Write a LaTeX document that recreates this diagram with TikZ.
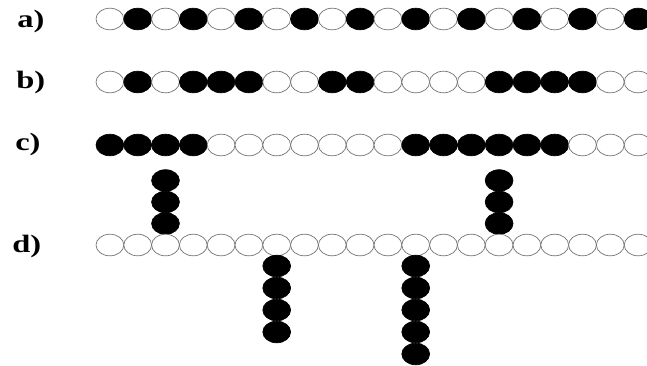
\documentclass[tikz,border=0pt]{standalone}
\usepackage{fontspec}
\setmainfont{Liberation Serif}
\newfontfamily\lblfont{Liberation Serif}[UprightFont=* Bold]
\begin{document}
\begin{tikzpicture}[x=1pt,y=-1pt,
  bead/.style={draw=black!55,line width=0.7pt,fill=white},
  blackbead/.style={draw=black,line width=0.7pt,fill=black},
  lbl/.style={anchor=base west,inner sep=0pt,font=\lblfont\fontsize{25}{25}\selectfont,xscale=1.3}]
\useasboundingbox (0,0) rectangle (647,365);
\def\rx{13.9}\def\ry{10.8}\def\dx{27.8}\def\xo{96}
% labels
\node[lbl] (la) at (17,27) {a)};
\node[lbl] (lb) at (16,88) {b)};
\node[lbl] (lc) at (15,150) {c)};
\node[lbl] (ld) at (12,252) {d)};
% row a
\foreach \i in {0,...,19}{
  \pgfmathtruncatemacro{\m}{mod(\i,2)}
  \ifnum\m=1 \def\st{blackbead}\else\def\st{bead}\fi
  \path[\st] ({\xo+\dx*(\i+0.5)},19) ellipse [x radius=\rx,y radius=\ry];
}
% row b
\foreach \i/\c in {0/0,1/1,2/0,3/1,4/1,5/1,6/0,7/0,8/1,9/1,10/0,11/0,12/0,13/0,14/1,15/1,16/1,17/1,18/0,19/0}{
  \ifnum\c=1 \def\st{blackbead}\else\def\st{bead}\fi
  \path[\st] ({\xo+\dx*(\i+0.5)},82) ellipse [x radius=\rx,y radius=\ry];
}
% row c
\foreach \i/\c in {0/1,1/1,2/1,3/1,4/0,5/0,6/0,7/0,8/0,9/0,10/0,11/1,12/1,13/1,14/1,15/1,16/1,17/0,18/0,19/0}{
  \ifnum\c=1 \def\st{blackbead}\else\def\st{bead}\fi
  \path[\st] ({\xo+\dx*(\i+0.5)},145) ellipse [x radius=\rx,y radius=\ry];
}
% columns between c and d
\foreach \y in {180.5,202,223.5}{
  \path[blackbead] ({\xo+\dx*2.5},\y) ellipse [x radius=\rx,y radius=\ry];
  \path[blackbead] ({\xo+\dx*14.5},\y) ellipse [x radius=\rx,y radius=\ry];
}
% row d
\foreach \i in {0,...,19}{
  \path[bead] ({\xo+\dx*(\i+0.5)},245) ellipse [x radius=\rx,y radius=\ry];
}
% columns below d
\foreach \y in {266,288,310,332}{
  \path[blackbead] ({\xo+\dx*6.5},\y) ellipse [x radius=\rx,y radius=\ry];
}
\foreach \y in {266,288,310,332,354}{
  \path[blackbead] ({\xo+\dx*11.5},\y) ellipse [x radius=\rx,y radius=\ry];
}
\end{tikzpicture}
\end{document}
